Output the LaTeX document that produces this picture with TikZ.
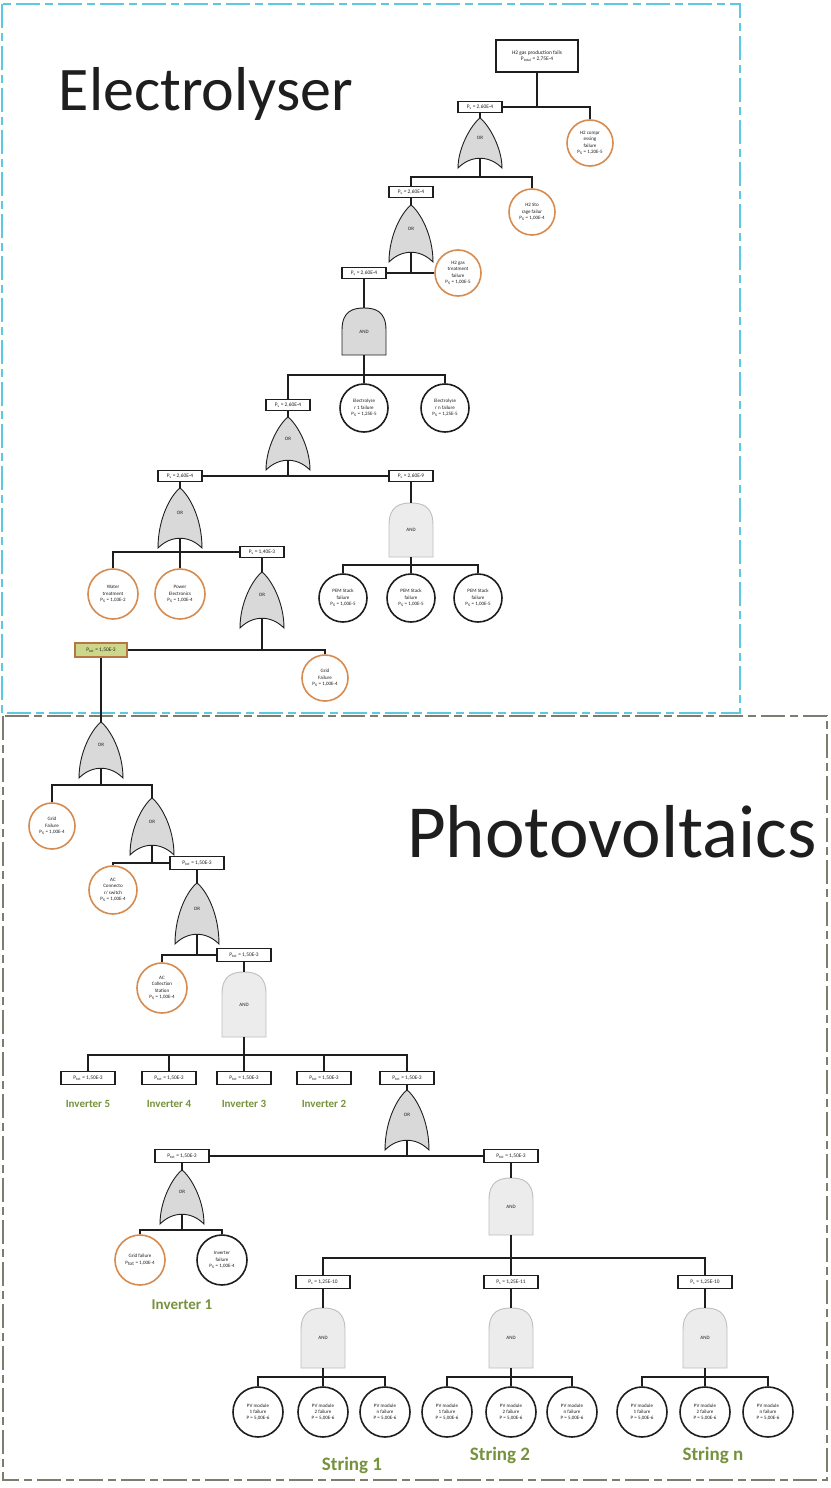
\documentclass[tikz,border=0pt]{standalone}
\usepackage{fontspec}
\setmainfont{Carlito}
\usetikzlibrary{calc}

\definecolor{frameblue}{RGB}{95,200,225}
\definecolor{framegray}{RGB}{125,125,110}
\definecolor{evorange}{RGB}{214,140,80}
\definecolor{orfill}{RGB}{217,217,217}
\definecolor{andlight}{RGB}{236,236,236}
\definecolor{andedge}{RGB}{190,190,190}
\definecolor{labgreen}{RGB}{118,146,60}
\definecolor{gbfill}{RGB}{205,215,140}
\definecolor{ink}{RGB}{30,30,30}

\newcommand\smallfnt{\fontsize{5}{6.4}\selectfont}
\newcommand\boxfnt{\fontsize{5.4}{6.4}\selectfont}

\tikzset{
  wire/.style={line width=1.3pt, draw=ink},
  pbox/.style={draw=ink, line width=1.8pt, fill=white, minimum width=44pt,
    minimum height=11pt, inner sep=0pt, font=\boxfnt, text=ink},
  pboxw/.style={pbox, minimum width=54pt, minimum height=13pt},
  basic/.style={circle, draw=ink, line width=1.6pt, fill=white, minimum size=46pt,
    inner sep=0pt, align=center, font=\smallfnt, text=ink},
  basico/.style={basic, draw=evorange},
  orshape/.style={draw=ink, line width=0.9pt, fill=orfill},
  andshape/.style={draw=ink, line width=0.9pt, fill=orfill},
  andshapelight/.style={draw=andedge, line width=0.9pt, fill=andlight},
  gatetxt/.style={inner sep=0pt, minimum width=44pt, font=\smallfnt, text=ink},
  grouplabel/.style={font=\bfseries, text=labgreen},
  framestyle/.style={line width=1.3pt, dash pattern=on 24pt off 5pt on 8pt off 5pt},
}

% OR gate: name, x, top, bottom corners
\newcommand\ORgate[4]{%
  \draw[orshape] (#2-22,#4) .. controls (#2-22,#3+30) and (#2-9,#3+7) .. (#2,#3)
    .. controls (#2+9,#3+7) and (#2+22,#3+30) .. (#2+22,#4)
    .. controls (#2+9,#4-13) and (#2-9,#4-13) .. cycle;
  \node[gatetxt, minimum height={#4-#3-10}] (#1) at (#2,{(#3+#4-10)/2}) {OR};
}
% AND gate: name, x, top, bottom, shape style
\newcommand\ANDgate[5]{%
  \draw[#5] (#2-22,#4) -- (#2-22,#3+22) .. controls (#2-22,#3+3) and (#2-11,#3) .. (#2,#3)
    .. controls (#2+11,#3) and (#2+22,#3+3) .. (#2+22,#3+22) -- (#2+22,#4) -- cycle;
  \node[gatetxt, minimum height={#4-#3}] (#1) at (#2,{(#3+#4)/2}) {AND};
}

\begin{document}
\begin{tikzpicture}[x=1pt,y=-1pt]
\useasboundingbox[fill=white] (0,0) rectangle (830,1488);

% ---------- frames and titles ----------
\draw[framestyle, frameblue] (2,4) rectangle (740,713);
\draw[framestyle, framegray] (3,716) rectangle (827,1480);
\node[font=\fontsize{62}{70}\selectfont, text=ink, anchor=base] (t1) at (206,110) {Electrolyser};
\node[font=\fontsize{75}{84}\selectfont, text=ink, anchor=base] (t2) at (612,857) {Photovoltaics};

% ---------- electrolyser branch ----------
\node[draw=ink, line width=1.9pt, fill=white, minimum width=82pt, minimum height=32pt,
  inner sep=1pt, align=center, font=\boxfnt, text=ink] (top) at (537,56)
  {H2 gas production fails\\P\textsubscript{total} = 2,75E-4};
\node[pbox] (b1) at (480,107) {P\textsubscript{s} = 2,60E-4};
\ORgate{g1}{480}{118}{168}
\node[basico] (c1) at (590,143) {H2 compr\\essing\\failure\\P\textsubscript{s} = 1,20E-5};
\node[basico] (c2) at (532,212) {H2 Sto\\rage failur\\P\textsubscript{s} = 1,00E-4};
\coordinate (j1) at (480,177);

\node[pbox] (b2) at (411,192) {P\textsubscript{s} = 2,60E-4};
\ORgate{g2}{411}{205}{262}
\node[pbox] (b3) at (364,273) {P\textsubscript{s} = 2,60E-4};
\node[basico] (c3) at (458,273) {H2 gas\\treatment\\failure\\P\textsubscript{s} = 1,00E-5};

\ANDgate{g3}{364}{308}{355}{andshape}
\coordinate (j3) at (364,375);
\node[pbox] (b4) at (288,405) {P\textsubscript{s} = 2,60E-4};
\node[basic, minimum size=48pt] (c4) at (364,408) {Electrolyse\\r 1 failure\\P\textsubscript{s} = 1,25E-5};
\node[basic, minimum size=48pt] (c5) at (445,408) {Electrolyse\\r n failure\\P\textsubscript{s} = 1,25E-5};

\ORgate{g4}{288}{417}{470}
\node[pbox] (b5) at (180,476) {P\textsubscript{s} = 2,60E-4};
\node[pbox] (b6) at (411,476) {P\textsubscript{s} = 2,60E-9};
\ANDgate{g5}{411}{503}{557}{andshapelight}
\coordinate (j5) at (411,565);
\node[basic, minimum size=48pt] (p1) at (343,598) {PEM Stack\\failure\\P\textsubscript{s} = 1,00E-5};
\node[basic, minimum size=48pt] (p2) at (411,598) {PEM Stack\\failure\\P\textsubscript{s} = 1,00E-5};
\node[basic, minimum size=48pt] (p3) at (478,598) {PEM Stack\\failure\\P\textsubscript{s} = 1,00E-5};

\ORgate{g6}{180}{488}{548}
\node[pbox] (b7) at (262,552) {P\textsubscript{s} = 1,40E-3};
\node[basico, minimum size=50pt] (c6) at (113,594) {Water\\treatment\\P\textsubscript{s} = 1,03E-2};
\node[basico, minimum size=50pt] (c7) at (180,594) {Power\\Electronics\\P\textsubscript{s} = 1,00E-4};

\ORgate{g7}{262}{572}{628}
\coordinate (j7) at (262,650);
\node[draw=evorange!85!black, line width=1.5pt, fill=gbfill, minimum width=52pt,
  minimum height=14pt, inner sep=0pt, font=\boxfnt, text=ink] (gb) at (101,650)
  {P\textsubscript{tot} = 1,50E-3};
\node[basico] (c8) at (325,678) {Grid\\Failure\\P\textsubscript{s} = 1,00E-4};

% ---------- photovoltaic branch ----------
\ORgate{g8}{101}{722}{778}
\coordinate (j8) at (101,785);
\node[basico] (c9) at (52,826) {Grid\\Failure\\P\textsubscript{s} = 1,00E-4};
\ORgate{g9}{152}{798}{855}
\node[basico, minimum size=48pt] (c10) at (113,890) {AC\\Connecto\\r/ switch\\P\textsubscript{s} = 1,00E-4};
\node[pboxw] (b8) at (197,863) {P\textsubscript{tot} = 1,50E-3};
\ORgate{g10}{197}{883}{944}
\node[basico, minimum size=50pt] (c11) at (162,988) {AC\\Collection\\Station\\P\textsubscript{s} = 1,00E-4};
\node[pboxw] (b9) at (244,955) {P\textsubscript{tot} = 1,50E-3};
\ANDgate{g11}{244}{972}{1037}{andshapelight}
\coordinate (j11) at (244,1055);

\node[pboxw] (i5) at (88,1078) {P\textsubscript{tot} = 1,50E-3};
\node[pboxw] (i4) at (169,1078) {P\textsubscript{tot} = 1,50E-3};
\node[pboxw] (i3) at (244,1078) {P\textsubscript{tot} = 1,50E-3};
\node[pboxw] (i2) at (324,1078) {P\textsubscript{tot} = 1,50E-3};
\node[pboxw] (i1) at (407,1078) {P\textsubscript{tot} = 1,50E-3};
\node[grouplabel, font=\bfseries\fontsize{11}{13}\selectfont] (l5) at (88,1104) {Inverter 5};
\node[grouplabel, font=\bfseries\fontsize{11}{13}\selectfont] (l4) at (169,1104) {Inverter 4};
\node[grouplabel, font=\bfseries\fontsize{11}{13}\selectfont] (l3) at (244,1104) {Inverter 3};
\node[grouplabel, font=\bfseries\fontsize{11}{13}\selectfont] (l2) at (324,1104) {Inverter 2};

\ORgate{g12}{407}{1090}{1150}
\coordinate (j12) at (407,1156);
\node[pboxw] (b10) at (182,1156) {P\textsubscript{tot} = 1,50E-3};
\node[pboxw] (b11) at (511,1156) {P\textsubscript{tot} = 1,50E-3};

\ORgate{g13}{182}{1170}{1224}
\coordinate (j13) at (182,1230);
\node[basico, minimum size=50pt] (c12) at (140,1260) {Grid failure\\P\textsubscript{tot} = 1,00E-4};
\node[basic, minimum size=50pt] (c13) at (222,1260) {Inverter\\failure\\P\textsubscript{s} = 1,00E-4};
\node[grouplabel, font=\bfseries\fontsize{15}{18}\selectfont] (l1) at (182,1305) {Inverter 1};

\ANDgate{g14}{511}{1178}{1235}{andshapelight}
\coordinate (j14) at (511,1258);
\node[pboxw] (s1) at (323,1282) {P\textsubscript{s} = 1,25E-10};
\node[pboxw] (s2) at (511,1282) {P\textsubscript{s} = 1,25E-11};
\node[pboxw] (s3) at (705,1282) {P\textsubscript{s} = 1,25E-10};

\ANDgate{a1}{323}{1308}{1368}{andshapelight}
\ANDgate{a2}{511}{1308}{1368}{andshapelight}
\ANDgate{a3}{705}{1308}{1368}{andshapelight}
\coordinate (k1) at (323,1377);
\coordinate (k2) at (511,1377);
\coordinate (k3) at (705,1377);

\node[basic, minimum size=50pt] (m11) at (258,1412) {PV module\\1 failure\\P = 5,00E-6};
\node[basic, minimum size=50pt] (m12) at (323,1412) {PV module\\2 failure\\P = 5,00E-6};
\node[basic, minimum size=50pt] (m13) at (385,1412) {PV module\\n failure\\P = 5,00E-6};
\node[basic, minimum size=50pt] (m21) at (447,1412) {PV module\\1 failure\\P = 5,00E-6};
\node[basic, minimum size=50pt] (m22) at (511,1412) {PV module\\2 failure\\P = 5,00E-6};
\node[basic, minimum size=50pt] (m23) at (572,1412) {PV module\\n failure\\P = 5,00E-6};
\node[basic, minimum size=50pt] (m31) at (642,1412) {PV module\\1 failure\\P = 5,00E-6};
\node[basic, minimum size=50pt] (m32) at (705,1412) {PV module\\2 failure\\P = 5,00E-6};
\node[basic, minimum size=50pt] (m33) at (768,1412) {PV module\\n failure\\P = 5,00E-6};
\node[grouplabel, font=\bfseries\fontsize{19}{22}\selectfont] (ls1) at (352,1465) {String 1};
\node[grouplabel, font=\bfseries\fontsize{19}{22}\selectfont] (ls2) at (500,1455) {String 2};
\node[grouplabel, font=\bfseries\fontsize{19}{22}\selectfont] (ls3) at (713,1455) {String n};

% ---------- connectors ----------
\begin{scope}[wire]
  \draw (top.south) -- (top.south |- b1.east);
  \draw (b1.east) -| (c1.north);
  \draw (b1.south) -- (g1.north);
  \draw (g1.south) -- (j1);
  \draw (b2.north) |- (j1) -| (c2.north);
  \draw (b2.south) -- (g2.north);
  \draw (g2.south) -- (g2.south |- b3.east);
  \draw (b3.east) -- (c3.west);
  \draw (b3.south) -- (g3.north);
  \draw (g3.south) -- (c4.north);
  \draw (b4.north) |- (j3) -| (c5.north);
  \draw (b4.south) -- (g4.north);
  \draw (g4.south) -- (g4.south |- b5.east);
  \draw (b5.east) -- (b6.west);
  \draw (b6.south) -- (g5.north);
  \draw (g5.south) -- (p2.north);
  \draw (p1.north) |- (j5) -| (p3.north);
  \draw (b5.south) -- (g6.north);
  \draw (g6.south) -- (c7.north);
  \draw (c6.north) |- (b7.west);
  \draw (b7.south) -- (g7.north);
  \draw (g7.south) -- (j7);
  \draw (gb.east) -| (c8.north);
  \draw (gb.south) -- (g8.north);
  \draw (g8.south) -- (j8);
  \draw (c9.north) |- (j8) -| (g9.north);
  \draw (g9.south) -- (g9.south |- b8.west);
  \draw (c10.north) |- (b8.west);
  \draw (b8.south) -- (g10.north);
  \draw (g10.south) -- (g10.south |- b9.west);
  \draw (c11.north) |- (b9.west);
  \draw (b9.south) -- (g11.north);
  \draw (g11.south) -- (i3.north);
  \draw (i5.north) |- (j11) -| (i1.north);
  \draw (i4.north) -- (i4.north |- j11);
  \draw (i2.north) -- (i2.north |- j11);
  \draw (i1.south) -- (g12.north);
  \draw (g12.south) -- (j12);
  \draw (b10.east) -- (b11.west);
  \draw (b10.south) -- (g13.north);
  \draw (g13.south) -- (j13);
  \draw (c12.north) |- (j13) -| (c13.north);
  \draw (b11.south) -- (g14.north);
  \draw (g14.south) -- (s2.north);
  \draw (s1.north) |- (j14) -| (s3.north);
  \draw (s1.south) -- (a1.north);
  \draw (s2.south) -- (a2.north);
  \draw (s3.south) -- (a3.north);
  \draw (a1.south) -- (m12.north);
  \draw (m11.north) |- (k1) -| (m13.north);
  \draw (a2.south) -- (m22.north);
  \draw (m21.north) |- (k2) -| (m23.north);
  \draw (a3.south) -- (m32.north);
  \draw (m31.north) |- (k3) -| (m33.north);
\end{scope}
\end{tikzpicture}
\end{document}
